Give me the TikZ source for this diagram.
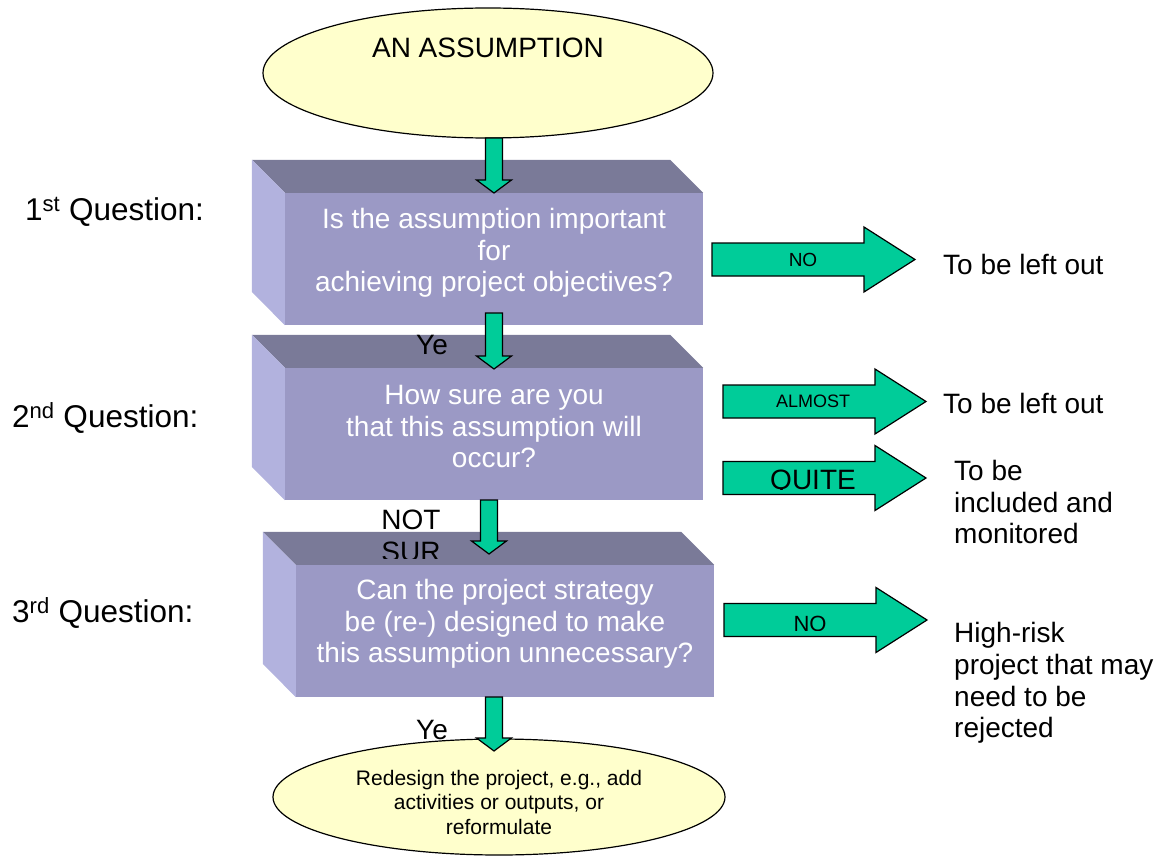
\documentclass[tikz,border=0pt]{standalone}
\usepackage{fontspec}
\setmainfont{Liberation Sans}
\usetikzlibrary{shapes.geometric,calc}

\definecolor{arrowgreen}{RGB}{0,204,153}
\definecolor{ovalyellow}{RGB}{255,255,204}
\definecolor{boxfront}{RGB}{155,153,197}
\definecolor{boxtop}{RGB}{122,122,152}
\definecolor{boxside}{RGB}{178,178,222}

\begin{document}
\begin{tikzpicture}[x=1pt,y=-1pt]
\tikzstyle{oval} = [
  shape=ellipse,
  draw=black,
  line width=1.2pt,
  fill=ovalyellow,
  inner sep=0pt
]
\tikzstyle{qface} = [
  shape=rectangle,
  fill=boxfront,
  minimum width=418pt,
  minimum height=132pt
]
\tikzstyle{qtext} = [
  inner sep=0pt,
  text=white,
  align=center,
  font=\fontsize{28}{31.5}\selectfont
]
\tikzstyle{greenarrow} = [
  draw=black,
  line width=1.2pt,
  line join=miter,
  fill=arrowgreen
]
\tikzstyle{plain} = [
  inner sep=0pt,
  align=left,
  font=\fontsize{28}{31.8}\selectfont
]

\useasboundingbox (0,0) rectangle (1160,856);

% start and end
\node [oval, minimum width=450pt, minimum height=130pt] (top) at (488,73) {};
\node [plain] (toptext) at (488,48) {AN ASSUMPTION};
\node [oval, minimum width=452pt, minimum height=116pt] (redesign) at (499,797) {};
\node [plain, align=center, font=\fontsize{21}{24.5}\selectfont] (redesigntext) at (499,802)
  {Redesign the project, e.g., add\\activities or outputs, or\\reformulate};

% question boxes
\node [qface] (q1) at (494,259) {};
\node [qface] (q2) at (494,434) {};
\node [qface] (q3) at (505,631) {};

\fill [boxtop] (q1.north west) -- ++(-33,-33) -- ($(q1.north east)+(-33,-33)$) -- (q1.north east) -- cycle;
\fill [boxside] (q1.north west) -- ++(-33,-33) -- ++(0,132) -- (q1.south west) -- cycle;
\fill [boxtop] (q2.north west) -- ++(-33,-33) -- ($(q2.north east)+(-33,-33)$) -- (q2.north east) -- cycle;
\fill [boxside] (q2.north west) -- ++(-33,-33) -- ++(0,132) -- (q2.south west) -- cycle;
\fill [boxtop] (q3.north west) -- ++(-33,-33) -- ($(q3.north east)+(-33,-33)$) -- (q3.north east) -- cycle;
\fill [boxside] (q3.north west) -- ++(-33,-33) -- ++(0,132) -- (q3.south west) -- cycle;

\node [qtext] (q1text) at ($(q1)+(0,-6)$) {Is the assumption important\\for\\achieving project objectives?};
\node [qtext] (q2text) at ($(q2)+(0,-7)$) {How sure are you\\that this assumption will\\occur?};
\node [qtext] (q3text) at ($(q3)+(0,-7)$) {Can the project strategy\\be (re-) designed to make\\this assumption unnecessary?};

% questions on the left
\node [plain, anchor=west, font=\fontsize{31.5}{36}\selectfont] (n1) at (25,212) {1\textsuperscript{st} Question:};
\node [plain, anchor=west, font=\fontsize{31.5}{36}\selectfont] (n2) at (12,418) {2\textsuperscript{nd} Question:};
\node [plain, anchor=west, font=\fontsize{31.5}{36}\selectfont] (n3) at (12,613) {3\textsuperscript{rd} Question:};

% arrows down
\foreach \ax/\atop/\abot in {494/138/193, 494/313/369, 489/500/554, 494/697/751}
  \filldraw [greenarrow] (\ax-8.5,\atop) -- (\ax+8.5,\atop) -- (\ax+8.5,\abot-13)
    -- (\ax+17.5,\abot-13) -- (\ax,\abot) -- (\ax-17.5,\abot-13) -- (\ax-8.5,\abot-13) -- cycle;

\node [plain] (yes1) at (432,345) {Ye};
\begin{scope}
  \clip (370,500) rectangle (460,558);
  \node [plain, align=center] (notsure) at (411,536) {NOT\\SUR};
\end{scope}
\node [plain] (yes2) at (432,730) {Ye};

% arrows right
\foreach \rx/\ry/\rend in {712/259.5/915, 723/401.5/926, 723/478/926, 724/620/927}
  \filldraw [greenarrow] (\rx,\ry-16.5) -- (\rend-51,\ry-16.5) -- (\rend-51,\ry-32.5)
    -- (\rend,\ry) -- (\rend-51,\ry+32.5) -- (\rend-51,\ry+16.5) -- (\rx,\ry+16.5) -- cycle;

\node [plain, font=\fontsize{19}{22}\selectfont] (no1) at (803,260) {NO};
\node [plain, font=\fontsize{18}{21}\selectfont] (almost) at (813,401) {ALMOST};
\begin{scope}
  \clip (723,460) rectangle (876,489);
  \node [plain] (quite) at (813,482) {QUITE};
\end{scope}
\begin{scope}
  \clip (723,600) rectangle (876,630);
  \node [plain, font=\fontsize{22}{25}\selectfont] (no3) at (810,624) {NO};
\end{scope}

% outcomes
\node [plain, anchor=west] (out1) at (943,264) {To be left out};
\node [plain, anchor=west] (out2) at (943,403) {To be left out};
\node [plain, anchor=west] (out3) at (954,502) {To be\\included and\\monitored};
\node [plain, anchor=west] (out4) at (954,683) {High-risk\\project that may\\need to be\\rejected};

\end{tikzpicture}
\end{document}
